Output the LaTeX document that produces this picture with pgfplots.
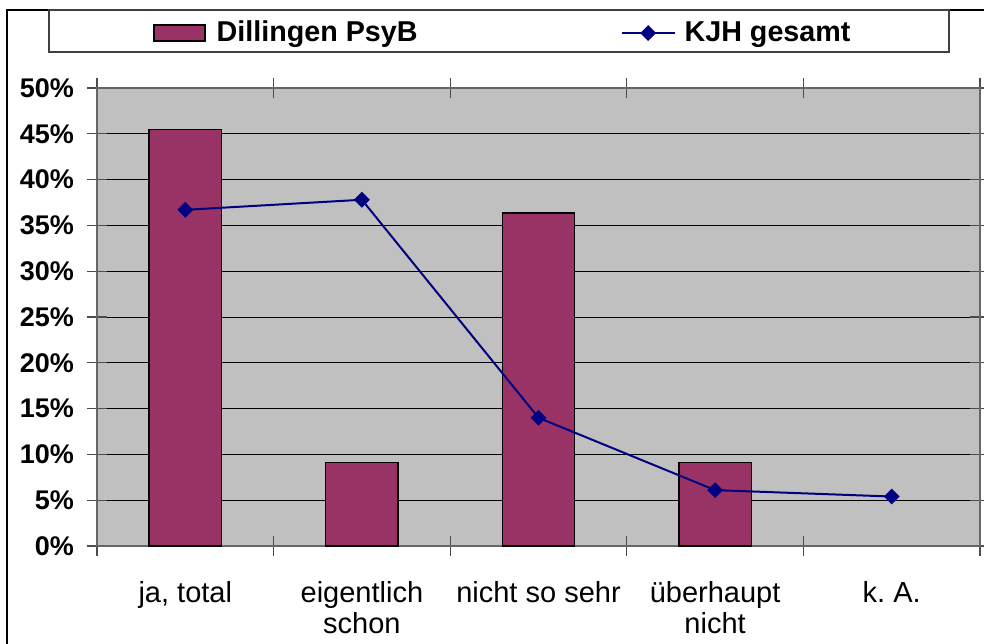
\documentclass[border=0pt]{standalone}
\usepackage{pgfplots}
\pgfplotsset{compat=1.18}
\usepackage{fontspec}
\setmainfont{Liberation Sans}
\definecolor{plum}{HTML}{993366}
\definecolor{navyc}{HTML}{000080}
\definecolor{plotbg}{HTML}{C0C0C0}
\pgfplotsset{
  barlegend/.style={legend image code/.code={\draw[fill=plum, draw=black, line width=0.6pt] (0pt,-4pt) rectangle (25.5pt,4pt); \path (29pt,0pt);}},
  linelegend/.style={legend image code/.code={\draw[mark repeat=2, mark phase=2, ##1] plot coordinates {(0pt,0pt) (13.25pt,0pt) (26.5pt,0pt)}; \path (29pt,0pt);}},
}
\begin{document}
\begin{tikzpicture}
\useasboundingbox (0pt,0pt) rectangle (492pt,321.5pt);
\draw[black, line width=0.6pt] (3.5pt,-5pt) -- (3.5pt,316.5pt) -- (500pt,316.5pt);
\draw[black!75, line width=0.6pt] (24.5pt,316.5pt) rectangle (474.5pt,295.5pt);
\begin{axis}[
  at={(48.5pt,48.5pt)}, anchor=south west,
  scale only axis, width=441.5pt, height=229pt,
  xmin=-0.5, xmax=4.5, ymin=0, ymax=50,
  axis background/.style={fill=plotbg},
  axis line style={draw=black!60, line width=0.7pt},
  xtick={-0.5,0.5,1.5,2.5,3.5,4.5},
  xticklabels={{ja, total}, {eigentlich\\schon}, {nicht so sehr}, {überhaupt\\nicht}, {k.\ A.}},
  x tick label as interval,
  xticklabel style={font=\fontsize{14.5pt}{15.5pt}\selectfont, align=center, anchor=north, yshift=-9pt},
  ytick={0,5,...,50},
  yticklabel={\pgfmathprintnumber{\tick}\%},
  yticklabel style={font=\fontsize{13.5pt}{16pt}\selectfont\bfseries, xshift=-3pt},
  /pgf/number format/assume math mode=true,
  tick align=center, major tick length=10pt,
  tick style={draw=black!70, line width=0.6pt},
  ymajorgrids, grid style={draw=black, line width=0.5pt},
  legend columns=2,
  legend style={at={(0.0634,1.12)}, anchor=west, draw=none, fill=none,
    inner sep=0pt, font=\fontsize{14.35pt}{16pt}\selectfont\bfseries,
    /tikz/every even column/.append style={column sep=99.5pt}},
]
\addplot[ybar, bar width=0.41, fill=plum, draw=black, line width=0.7pt, barlegend]
  coordinates {(0,45.45) (1,9.09) (2,36.36) (3,9.09)};
\addlegendentry{Dillingen PsyB}
\addplot[navyc, line width=1pt, mark=square*, mark size=2.3pt, mark options={rotate=45, fill=navyc}, linelegend]
  coordinates {(0,36.7) (1,37.8) (2,14.0) (3,6.1) (4,5.4)};
\addlegendentry{KJH gesamt}
\end{axis}
\end{tikzpicture}
\end{document}
